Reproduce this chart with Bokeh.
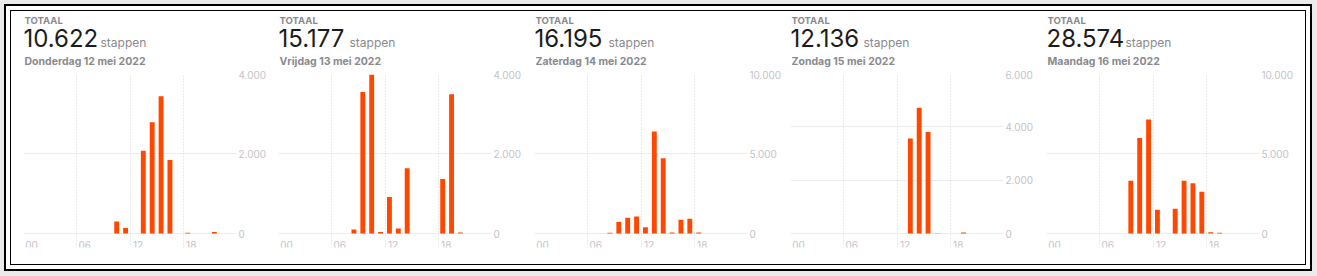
from bokeh.plotting import figure
from bokeh.models import Range1d, FixedTicker, Grid, LinearAxis, ColumnDataSource
from bokeh.layouts import row, column
from bokeh.transform import dodge
from bokeh.embed import file_html
from bokeh.resources import INLINE
from bokeh.core.properties import value

# ---------------- data ----------------
hours = list(range(24))
hour_ticks = [0, 6, 12, 18]
hour_labels = ["00", "06", "12", "18"]

header_label = "TOTAAL"
unit_label = "stappen"
days = ["Donderdag 12 mei 2022", "Vrijdag 13 mei 2022", "Zaterdag 14 mei 2022",
        "Zondag 15 mei 2022", "Maandag 16 mei 2022"]
totals = ["10.622", "15.177", "16.195", "12.136", "28.574"]

#            00 01 02 03 04 05 06 07 08    09    10    11    12    13    14    15    16    17   18    19  20  21 22 23
steps_thu = [0, 0, 0, 0, 0, 0, 0, 0, 0,    0,    300,  140,  0,    2070, 2780, 3430, 1840, 0,   20,   0,   0,  40, 0, 0]
steps_fri = [0, 0, 0, 0, 0, 0, 0, 0, 100,  3540, 3970, 35,   910,  125,  1630, 0,    0,    0,   1360, 3480, 27, 0,  0, 0]
steps_sat = [0, 0, 0, 0, 0, 0, 0, 0, 50,   720,  980,  1060, 390,  6380, 4705, 70,   860,  920, 60,   0,   0,  0,  0, 0]
steps_sun = [0, 0, 0, 0, 0, 0, 0, 0, 0,    0,    0,    0,    0,    3560, 4720, 3805, 13,   0,   0,    38,  0,  0,  0, 0]
steps_mon = [0, 0, 0, 0, 0, 0, 0, 0, 0,    3292, 5970, 7124, 1479, 0,    1542, 3292, 3146, 2604, 83,  42,  0,  0,  0, 0]
series = [steps_thu, steps_fri, steps_sat, steps_sun, steps_mon]

y_max = [4000, 4000, 10000, 6000, 10000]
y_ticks = [[0, 2000, 4000], [0, 2000, 4000], [0, 5000, 10000], [0, 2000, 4000, 6000], [0, 5000, 10000]]
y_tick_labels = [["0", "2.000", "4.000"], ["0", "2.000", "4.000"], ["0", "5.000", "10.000"],
                 ["0", "2.000", "4.000", "6.000"], ["0", "5.000", "10.000"]]

# ---------------- style ----------------
FONT = "Inter"
BAR = "#ff4700"
TXT = "#1c1c1e"
GRAY = "#8a8a8e"
AXIS_TXT = "#c4c4c6"
GRID = "#ececec"
VGRID = "#d6d6d6"
FRAME_W = 213
FRAME_H = 174
HEAD_H = 59
border_left = [12, 1, 2, 2, 2]
border_right = [41, 41, 41, 41, 46]
unit_dx = [77, 71, 74, 73, 79]

panels = []
for i in range(5):
    L, R = border_left[i], border_right[i]
    # header
    h = figure(frame_width=FRAME_W, frame_height=HEAD_H,
               x_range=Range1d(0, FRAME_W), y_range=Range1d(0, HEAD_H),
               toolbar_location=None, output_backend="svg",
               min_border_left=L, min_border_right=R, min_border_top=0, min_border_bottom=0,
               x_axis_location=None, y_axis_location=None, outline_line_color=None)
    h.grid.visible = False
    h.text(x=[1], y=[50.0], text=[header_label], text_font=value(FONT),
           text_font_size="9.5px", text_font_style="bold", text_color=GRAY,
           text_baseline="middle")
    h.text(x=[0], y=[32.2], text=[totals[i]], text_font=value(FONT),
           text_font_size="24px", text_color=TXT, text_baseline="middle")
    h.text(x=[unit_dx[i]], y=[28.4], text=[unit_label], text_font=value(FONT),
           text_font_size="12px", text_color=GRAY, text_baseline="middle")
    h.text(x=[1], y=[9.3], text=[days[i]], text_font=value(FONT),
           text_font_size="10.5px", text_font_style="bold", text_color=GRAY,
           text_baseline="middle")

    # chart
    ym = y_max[i]
    p = figure(frame_width=FRAME_W, frame_height=FRAME_H, x_range=Range1d(0, 24),
               y_range=Range1d(-ym * 14 / 160, ym),
               x_axis_location=None, y_axis_location="right",
               toolbar_location=None, output_backend="svg",
               min_border_left=L, min_border_right=R,
               min_border_top=3, min_border_bottom=17, outline_line_color=None)
    p.extra_x_ranges = {"lab": Range1d(-0.9, 23.1)}

    src = ColumnDataSource(dict(hour=hours, steps=series[i]))
    p.vbar(x=dodge("hour", 0.5, range=p.x_range), top="steps", width=0.55, source=src,
           fill_color=BAR, line_color=None)

    ya = p.yaxis[0]
    ya.ticker = FixedTicker(ticks=y_ticks[i])
    ya.major_label_overrides = dict(zip(y_ticks[i], y_tick_labels[i]))
    ya.axis_line_color = None
    ya.major_tick_line_color = None
    ya.minor_tick_line_color = None
    ya.major_tick_out = 0
    ya.major_tick_in = 0
    ya.minor_tick_out = 0
    ya.major_label_standoff = 2
    ya.major_label_text_color = AXIS_TXT
    ya.major_label_text_font = FONT
    ya.major_label_text_font_size = "10px"

    p.ygrid.ticker = FixedTicker(ticks=y_ticks[i])
    p.ygrid.grid_line_color = GRID
    p.xgrid.visible = False
    vg = Grid(dimension=0, ticker=FixedTicker(ticks=[6, 12, 18]), grid_line_color=VGRID,
              grid_line_dash="1 2")
    eg = Grid(dimension=0, ticker=FixedTicker(ticks=[0, 24]), grid_line_color=GRID)
    p.add_layout(vg)
    p.add_layout(eg)

    xa = LinearAxis(x_range_name="lab", ticker=FixedTicker(ticks=hour_ticks),
                    major_label_overrides=dict(zip(hour_ticks, hour_labels)))
    xa.fixed_location = 0
    xa.axis_line_color = None
    xa.major_tick_line_color = None
    xa.minor_tick_line_color = None
    xa.major_tick_out = 0
    xa.major_tick_in = 0
    xa.minor_tick_out = 0
    xa.major_label_standoff = 7
    xa.major_label_text_color = AXIS_TXT
    xa.major_label_text_font = FONT
    xa.major_label_text_font_size = "10px"
    p.add_layout(xa, "below")

    panels.append(column(h, p))

inner = row(*panels, styles={"border": "1px solid black", "background-color": "white"})
mid = column(inner, styles={"border": "2px solid black", "padding": "4px",
                            "background-color": "white"})
outer = column(mid, styles={"background-color": "#ebebeb", "padding": "4px 5px 5px 4px"})

open("out.html", "w").write(file_html(outer, INLINE))
